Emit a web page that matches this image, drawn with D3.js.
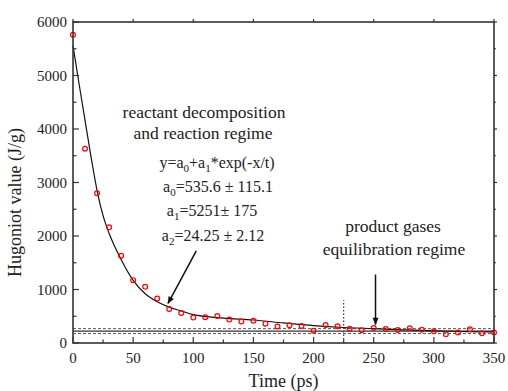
<!DOCTYPE html>
<html lang="en">
<head>
  <meta charset="UTF-8">
  <title>Hugoniot value - D3</title>
  <script src="https://d3js.org/d3.v7.min.js"></script>
  <style>
    body {
      margin: 0;
      background-color: #fff;
    }
    text {
      font-family: "Liberation Serif", "Times New Roman", serif;
      fill: #222;
    }
    .tick-label {
      font-size: 15px;
    }
    .axis-title {
      font-size: 18px;
    }
    .note {
      font-size: 17.5px;
      text-anchor: middle;
    }
    .eq {
      font-size: 16px;
      text-anchor: middle;
    }
  </style>
</head>
<body>
<script>
  // measured data: time (ps) and Hugoniot value (J/g)
  var times = [0, 10, 20, 30, 40, 50, 60, 70, 80, 90, 100, 110, 120, 130, 140, 150, 160, 170,
               180, 190, 200, 210, 220, 230, 240, 250, 260, 270, 280, 290, 300, 310, 320, 330, 340, 350];
  var hugoniot = [5762, 3632, 2800, 2162, 1631, 1175, 1050, 831, 637, 562, 475, 480, 503, 437, 403, 415, 362, 309,
                  331, 319, 228, 337, 312, 268, 237, 281, 262, 244, 275, 250, 219, 162, 194, 256, 181, 194];

  // fitted curve
  var fitX = [0, 5, 10, 15, 20, 25, 30, 40, 50, 60, 70, 80, 90, 100, 125, 150, 175, 200, 225, 250, 275, 300, 325, 350];
  var fitY = [5560, 4850, 4160, 3480, 2850, 2380, 2050, 1560, 1170, 920, 770, 670, 600, 530, 465, 430, 375, 325, 290, 268, 245, 228, 215, 206];

  // equilibrium band (mean and +/- limits) and regime boundary
  var bandMean = 222, bandLow = 176, bandHigh = 268;
  var boundaryX = 225, boundaryTop = 800;

  var xTicks = [0, 50, 100, 150, 200, 250, 300, 350];
  var yTicks = [0, 1000, 2000, 3000, 4000, 5000, 6000];

  var margin = { top: 22, right: 14, bottom: 48, left: 73 },
      W = 508, H = 391,
      width = W - margin.left - margin.right,
      height = H - margin.top - margin.bottom;

  var x = d3.scaleLinear().domain([0, 350]).range([0, width]);
  var y = d3.scaleLinear().domain([0, 6000]).range([height, 0]);

  var root = d3.select("body").append("svg")
      .attr("width", W)
      .attr("height", H);

  root.append("defs").append("marker")
      .attr("id", "arrow")
      .attr("viewBox", "0 0 10 10")
      .attr("refX", 9).attr("refY", 5)
      .attr("markerWidth", 6).attr("markerHeight", 5)
      .attr("markerUnits", "strokeWidth")
      .attr("orient", "auto")
      .append("path")
      .attr("d", "M0,1 L10,5 L0,9 Z")
      .attr("fill", "#111");

  var svg = root.append("g")
      .attr("transform", `translate(${margin.left},${margin.top})`);

  // horizontal band lines
  svg.append("line")
     .attr("x1", x(0)).attr("x2", x(350))
     .attr("y1", y(bandMean)).attr("y2", y(bandMean))
     .attr("stroke", "#333").attr("stroke-width", 1.3);
  [bandLow, bandHigh].forEach(function(v) {
    svg.append("line")
       .attr("x1", x(0)).attr("x2", x(350))
       .attr("y1", y(v)).attr("y2", y(v))
       .attr("stroke", "#555").attr("stroke-width", 1)
       .attr("stroke-dasharray", "3,2");
  });

  // vertical dotted boundary
  svg.append("line")
     .attr("x1", x(boundaryX)).attr("x2", x(boundaryX))
     .attr("y1", y(0)).attr("y2", y(boundaryTop))
     .attr("stroke", "#444").attr("stroke-width", 1.3)
     .attr("stroke-dasharray", "1.5,2");

  // fit curve
  var line = d3.line()
      .x((d, i) => x(fitX[i]))
      .y(d => y(d))
      .curve(d3.curveMonotoneX);
  svg.append("path")
     .datum(fitY)
     .attr("d", line)
     .attr("fill", "none")
     .attr("stroke", "#111")
     .attr("stroke-width", 1.2);

  // data points
  svg.selectAll(".pt")
     .data(hugoniot)
     .enter()
     .append("circle")
     .attr("class", "pt")
     .attr("cx", (d, i) => x(times[i]))
     .attr("cy", d => y(d))
     .attr("r", 2.4)
     .attr("fill", "none")
     .attr("stroke", "#f00")
     .attr("stroke-width", 1.2);

  // arrows
  function arrow(x1, v1, x2, v2) {
    svg.append("line")
       .attr("x1", x(x1)).attr("y1", y(v1))
       .attr("x2", x(x2)).attr("y2", y(v2))
       .attr("stroke", "#111").attr("stroke-width", 1.5)
       .attr("marker-end", "url(#arrow)");
  }
  arrow(102.5, 1720, 79, 740);
  arrow(251.5, 1280, 251.5, 345);

  // frame
  svg.append("rect")
     .attr("width", width).attr("height", height)
     .attr("fill", "none")
     .attr("stroke", "#333")
     .attr("stroke-width", 1.6);

  // ticks (inside on bottom/left)
  var xMinor = d3.range(25, 350, 50);
  var yMinor = d3.range(500, 6000, 1000);

  var gx = svg.append("g").attr("class", "axis");
  xTicks.forEach(function(t) {
    gx.append("line").attr("x1", x(t)).attr("x2", x(t))
      .attr("y1", height).attr("y2", height - 6).attr("stroke", "#333").attr("stroke-width", 1.2);
    gx.append("line").attr("x1", x(t)).attr("x2", x(t))
      .attr("y1", 0).attr("y2", -3).attr("stroke", "#333").attr("stroke-width", 1.2);
    gx.append("text").attr("class", "tick-label")
      .attr("x", x(t)).attr("y", height + 20)
      .attr("text-anchor", "middle")
      .text(t);
  });
  xMinor.forEach(function(t) {
    gx.append("line").attr("x1", x(t)).attr("x2", x(t))
      .attr("y1", height).attr("y2", height - 3.5).attr("stroke", "#333").attr("stroke-width", 1.2);
  });

  var gy = svg.append("g").attr("class", "axis");
  yTicks.forEach(function(t) {
    gy.append("line").attr("x1", 0).attr("x2", 6)
      .attr("y1", y(t)).attr("y2", y(t)).attr("stroke", "#333").attr("stroke-width", 1.2);
    gy.append("line").attr("x1", width).attr("x2", width + 3)
      .attr("y1", y(t)).attr("y2", y(t)).attr("stroke", "#333").attr("stroke-width", 1.2);
    gy.append("text").attr("class", "tick-label")
      .attr("x", -6).attr("y", y(t) + 5)
      .attr("text-anchor", "end")
      .text(t);
  });
  yMinor.forEach(function(t) {
    gy.append("line").attr("x1", 0).attr("x2", 3.5)
      .attr("y1", y(t)).attr("y2", y(t)).attr("stroke", "#333").attr("stroke-width", 1.2);
    gy.append("line").attr("x1", width).attr("x2", width + 2)
      .attr("y1", y(t)).attr("y2", y(t)).attr("stroke", "#333").attr("stroke-width", 1.2);
  });

  // axis titles
  svg.append("text").attr("class", "axis-title")
     .attr("x", width / 2).attr("y", height + 44)
     .attr("text-anchor", "middle")
     .text("Time (ps)");
  svg.append("text").attr("class", "axis-title")
     .attr("transform", `translate(${-52},${y(3000) + 20}) rotate(-90)`)
     .attr("text-anchor", "middle")
     .text("Hugoniot value (J/g)");

  // annotations
  svg.append("text").attr("class", "note")
     .attr("x", 204 - margin.left).attr("y", 118 - margin.top)
     .text("reactant decomposition");
  svg.append("text").attr("class", "note")
     .attr("x", 203 - margin.left).attr("y", 139 - margin.top)
     .text("and reaction regime");

  svg.append("text").attr("class", "note")
     .attr("x", 393 - margin.left).attr("y", 232 - margin.top)
     .text("product gases");
  svg.append("text").attr("class", "note")
     .attr("x", 394 - margin.left).attr("y", 255 - margin.top)
     .text("equilibration regime");

  // fit equation with subscripts
  function eqLine(cx, by, parts) {
    var t = svg.append("text").attr("class", "eq")
       .attr("x", cx - margin.left).attr("y", by - margin.top);
    parts.forEach(function(p) {
      if (p.sub) {
        t.append("tspan").attr("dy", 4).attr("font-size", 11).text(p.sub);
      } else {
        t.append("tspan").attr("dy", p.up ? -4 : 0).text(p.txt);
      }
    });
  }
  eqLine(217, 168, [{txt: "y=a"}, {sub: "0"}, {txt: "+a", up: true}, {sub: "1"}, {txt: "*exp(-x/t)", up: true}]);
  eqLine(218, 192, [{txt: "a"}, {sub: "0"}, {txt: "=535.6 \u00b1 115.1", up: true}]);
  eqLine(212, 216, [{txt: "a"}, {sub: "1"}, {txt: "=5251\u00b1 175", up: true}]);
  eqLine(213, 241, [{txt: "a"}, {sub: "2"}, {txt: "=24.25 \u00b1 2.12", up: true}]);
</script>
</body>
</html>
